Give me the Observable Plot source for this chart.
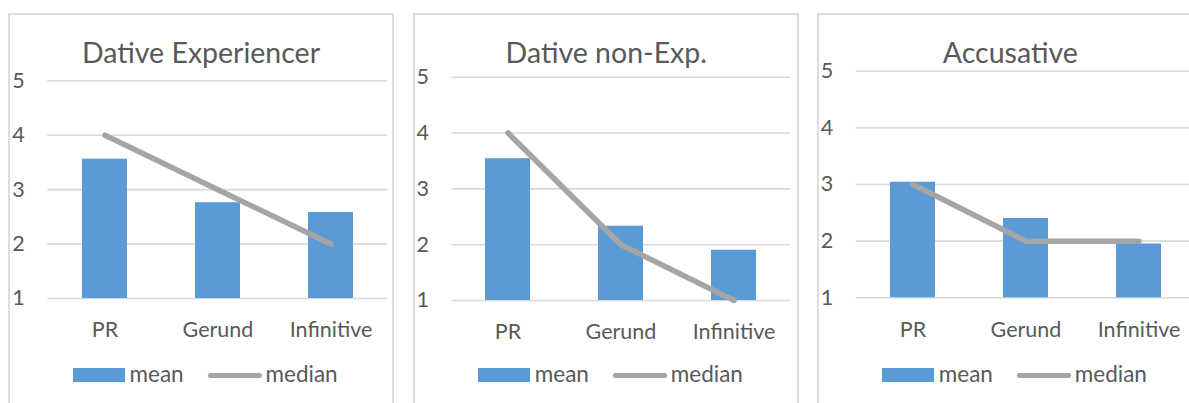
<!DOCTYPE html>
<html>
<head>
<meta charset="utf-8">
<script src="https://cdn.jsdelivr.net/npm/d3@7"></script>
<script src="https://cdn.jsdelivr.net/npm/@observablehq/plot@0.6"></script>
<style>
  html, body { margin: 0; padding: 0; background: #fff; }
  body { width: 1189px; height: 403px; overflow: hidden; position: relative; font-family: Lato, "Open Sans", sans-serif; color: #595959; }
  .panel { position: absolute; top: 13px; width: 386px; height: 420px; box-sizing: border-box; border: 2px solid #DDDDDD; }
  .chart { position: absolute; top: 0; }
  .title { position: absolute; width: 386px; text-align: center; font-size: 28.5px; line-height: 34.2px; white-space: nowrap; }
  .leg { position: absolute; font-size: 22.5px; line-height: 27px; white-space: nowrap; }
  .sw-bar { position: absolute; width: 52px; height: 13.4px; background: #5B9BD5; }
  .sw-line { position: absolute; width: 54.6px; height: 5.7px; border-radius: 3px; background: #A5A5A5; }
</style>
</head>
<body>
<script>
// ---- data ----
const categories = ["PR", "Gerund", "Infinitive"];
const panelTitles = ["Dative Experiencer", "Dative non-Exp.", "Accusative"];
const seriesNames = ["mean", "median"];
const meanDativeExp = [3.56, 2.76, 2.58];
const medianDativeExp = [4, 3, 2];
const meanDativeNonExp = [3.54, 2.33, 1.9];
const medianDativeNonExp = [4, 2, 1];
const meanAccusative = [3.04, 2.4, 1.95];
const medianAccusative = [3, 2, 2];
const yTicks = [1, 2, 3, 4, 5];

// ---- layout (page pixels) ----
const layouts = [
  {left: 8,     plotLeft: 47.3,  plotRight: 387.3,  top5: 80.3, bottom1: 298},
  {left: 413.3, plotLeft: 451.7, plotRight: 790.7,  top5: 76.7, bottom1: 300},
  {left: 817.3, plotLeft: 856,   plotRight: 1196,   top5: 70.7, bottom1: 297.3}
];
const means = [meanDativeExp, meanDativeNonExp, meanAccusative];
const medians = [medianDativeExp, medianDativeNonExp, medianAccusative];

const W = 386, H = 345;

layouts.forEach((L, i) => {
  const panel = document.createElement("div");
  panel.className = "panel";
  panel.style.left = L.left + "px";
  document.body.appendChild(panel);

  const rows = categories.map((c, j) => ({cat: c, mean: means[i][j], median: medians[i][j], base: 1}));

  const chart = Plot.plot({
    width: W,
    height: H,
    marginLeft: L.plotLeft - L.left,
    marginRight: L.left + W - L.plotRight,
    marginTop: L.top5,
    marginBottom: H - L.bottom1,
    x: {type: "band", domain: categories, paddingInner: 0.6, paddingOuter: 0.3, tickSize: 0, tickPadding: 23.7, label: null},
    y: {domain: [1, 5], ticks: yTicks, tickFormat: d3.format("d"), tickSize: 0, tickPadding: 23, label: null},
    style: {fontFamily: "Lato, 'Open Sans', sans-serif", fontSize: "21.5px", color: "#595959", background: "transparent", overflow: "visible"},
    marks: [
      Plot.ruleY(yTicks, {stroke: "#D9D9D9", strokeWidth: 1.6}),
      Plot.barY(rows, {x: "cat", y1: "base", y2: "mean", fill: "#5B9BD5"}),
      Plot.line(rows, {x: "cat", y: "median", stroke: "#A5A5A5", strokeWidth: 5.5, strokeLinecap: "round", strokeLinejoin: "round"})
    ]
  });
  chart.classList.add("chart");
  chart.style.left = L.left + "px";
  document.body.appendChild(chart);

  const t = document.createElement("div");
  t.className = "title";
  t.textContent = panelTitles[i];
  t.style.left = L.left + "px";
  t.style.top = "34.6px";
  document.body.appendChild(t);

  // legend
  const lx = L.left + 64.5;
  const sb = document.createElement("div");
  sb.className = "sw-bar";
  sb.style.left = lx + "px"; sb.style.top = "368.3px";
  document.body.appendChild(sb);
  const t1 = document.createElement("div");
  t1.className = "leg"; t1.textContent = seriesNames[0];
  t1.style.left = (lx + 57) + "px"; t1.style.top = "359.5px";
  document.body.appendChild(t1);
  const sl = document.createElement("div");
  sl.className = "sw-line";
  sl.style.left = (lx + 135) + "px"; sl.style.top = "372.6px";
  document.body.appendChild(sl);
  const t2 = document.createElement("div");
  t2.className = "leg"; t2.textContent = seriesNames[1];
  t2.style.left = (lx + 193) + "px"; t2.style.top = "359.5px";
  document.body.appendChild(t2);
});
</script>
</body>
</html>
